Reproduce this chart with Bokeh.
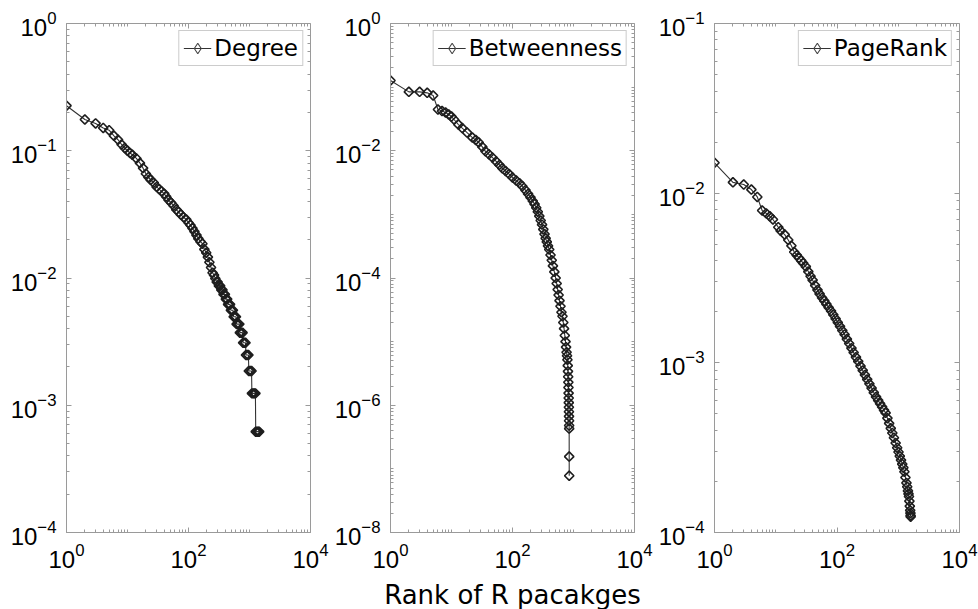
import math
from bokeh.plotting import figure
from bokeh.models import Range1d, FixedTicker, LogAxis, Legend, LegendItem
from bokeh.layouts import row
from bokeh.embed import file_html
from bokeh.resources import INLINE

# ---------------- data ----------------
deg_rank = [1, 2, 3, 4, 5, 6, 7, 8, 9, 10, 11, 12, 14, 16, 18, 20, 22, 24, 27, 30,
            33, 36, 40, 43, 47, 52, 57, 63, 69, 75, 83, 92, 100, 108, 116, 125, 135,
            145, 157, 169, 182, 195, 208, 220, 234, 248, 262, 275, 290, 300, 315,
            330, 345, 360, 375, 395, 410, 430, 445, 465, 480, 495, 515, 535, 550,
            575, 600, 615, 645, 680, 695, 730, 770, 785, 820, 860, 875, 915, 960,
            975, 1030, 1080, 1095, 1150, 1200, 1250, 1265, 1330, 1390, 1440]
deg_value = [0.226, 0.176, 0.164, 0.151, 0.145, 0.131, 0.122, 0.112, 0.105, 0.100,
             0.096, 0.093, 0.087, 0.080, 0.073, 0.066, 0.062, 0.059, 0.056, 0.052,
             0.050, 0.048, 0.046, 0.0436, 0.041, 0.039, 0.037, 0.0345, 0.033, 0.0315,
             0.030, 0.0288, 0.0272, 0.0260, 0.0246, 0.0232, 0.0217, 0.0204, 0.0193,
             0.0186, 0.0168, 0.0158, 0.0146, 0.0133, 0.0121, 0.0110, 0.01054,
             0.00992, 0.0093, 0.0093, 0.00868, 0.00868, 0.00806, 0.00806, 0.00744,
             0.00744, 0.00682, 0.00682, 0.0062, 0.0062, 0.0062, 0.00558, 0.00558,
             0.00558, 0.00496, 0.00496, 0.00496, 0.00434, 0.00434, 0.00434, 0.00372,
             0.00372, 0.00372, 0.0031, 0.0031, 0.0031, 0.00248, 0.00248, 0.00248,
             0.00186, 0.00186, 0.00186, 0.00124, 0.00124, 0.00124, 0.00124, 0.00062,
             0.00062, 0.00062, 0.00062]

bet_rank = [1, 2, 3, 4, 5, 6, 7, 8, 9, 10, 11, 13, 15, 18, 22, 25, 28, 32, 36, 41,
            47, 54, 61, 68, 77, 88, 100, 115, 130, 145, 163, 180, 197, 215, 230,
            245, 260, 275, 290, 305, 320, 335, 350, 365, 382, 400, 420, 440, 460,
            485, 510, 530, 550, 570, 590, 612, 635, 660, 680, 700, 720, 740, 755,
            770, 783, 795, 805, 812, 818, 823, 827, 831, 834, 837, 840, 842, 844,
            846, 848, 849, 850, 851]
bet_value = [0.127, 0.0843, 0.0843, 0.0813, 0.0738, 0.0445, 0.0421, 0.0399, 0.0371,
             0.0345, 0.0310, 0.0258, 0.0227, 0.0193, 0.0161, 0.0148, 0.0135, 0.0115,
             0.0098, 0.0088, 0.0078, 0.0068, 0.0060, 0.0053, 0.0048, 0.0043, 0.0038,
             0.0034, 0.0031, 0.00277, 0.0024, 0.0021, 0.00185, 0.00162, 0.00145,
             0.00127, 0.00110, 0.00094, 0.00080, 0.00069, 0.00058, 0.00049, 0.00042,
             0.00037, 0.00032, 0.00028, 0.00023, 0.00019, 0.000155, 0.000125, 1.0e-4,
             8.2e-5, 6.6e-5, 5.4e-5, 4.4e-5, 3.6e-5, 2.9e-5, 2.5e-5, 2.0e-5, 1.6e-5,
             1.25e-5, 1.0e-5, 8.2e-6, 6.8e-6, 6.0e-6, 5.2e-6, 4.2e-6, 3.4e-6, 2.8e-6,
             2.3e-6, 1.9e-6, 1.55e-6, 1.3e-6, 1.1e-6, 9.3e-7, 7.9e-7, 6.7e-7, 5.7e-7,
             4.8e-7, 4.3e-7, 1.56e-7, 7.8e-8]

pr_rank = [1, 2, 3, 4, 5, 6, 7, 8, 9, 11, 12, 14, 16, 18, 20, 22, 24, 26, 28, 31,
           34, 37, 40, 44, 48, 52, 57, 62, 67, 73, 80, 87, 95, 103, 112, 122, 133,
           145, 158, 172, 187, 204, 222, 242, 263, 286, 311, 338, 367, 399, 434,
           470, 505, 545, 585, 622, 665, 710, 755, 800, 850, 907, 960, 1010, 1060,
           1110, 1160, 1210, 1260, 1310, 1360, 1400, 1440, 1470, 1496, 1520, 1545,
           1565, 1580, 1590, 1595]
pr_value = [0.0151, 0.01158, 0.01124, 0.0105, 0.0095, 0.0079, 0.0076, 0.0073, 0.0070,
            0.0063, 0.0060, 0.0057, 0.0053, 0.0049, 0.00450, 0.00431, 0.00415,
            0.00400, 0.00387, 0.00369, 0.00345, 0.00324, 0.00307, 0.00286, 0.00269,
            0.00255, 0.00242, 0.00232, 0.00222, 0.00212, 0.00202, 0.00192, 0.00182,
            0.00173, 0.00164, 0.00155, 0.00147, 0.00138, 0.00130, 0.00122, 0.00115,
            0.00108, 0.00102, 0.000957, 0.000902, 0.000849, 0.000799, 0.000753,
            0.000710, 0.000668, 0.000630, 0.000601, 0.000575, 0.000550, 0.000526,
            0.000507, 0.000472, 0.000440, 0.000411, 0.000386, 0.000362, 0.000337,
            0.000316, 0.000298, 0.000282, 0.000267, 0.000253, 0.000241, 0.000228,
            0.000211, 0.000196, 0.000186, 0.000176, 0.000169, 0.000163, 0.000153,
            0.000143, 0.000135, 0.000130, 0.000126, 0.000124]

series_labels = ["Degree", "Betweenness", "PageRank"]
x_label = "Rank of R pacakges"

# ---------------- styling ----------------
FONT = "DejaVu Sans"
TICK_FONT = "Liberation Sans"
AXIS_GREY = "#9a9a9a"
MARK = "#1e1e1e"
FRAME_H = 509
TOP = 23
BOTTOM = 66


def decade_minors(lo_exp, hi_exp, extra_decades):
    out = []
    for e in range(lo_exp, hi_exp):
        for k in range(2, 10):
            out.append(k * 10.0 ** e)
    out += [10.0 ** e for e in extra_decades]
    return out


def style_axis(ax, show_labels, standoff):
    ax.axis_line_color = AXIS_GREY
    ax.major_tick_line_color = AXIS_GREY
    ax.minor_tick_line_color = AXIS_GREY
    ax.major_tick_in = 5
    ax.major_tick_out = 0
    ax.minor_tick_in = 3
    ax.minor_tick_out = 0
    if show_labels:
        ax.major_label_text_font = TICK_FONT
        ax.major_label_text_font_size = "24px"
        ax.major_label_text_color = "black"
        ax.major_label_standoff = standoff
    else:
        ax.major_label_text_font_size = "1px"
        ax.major_label_text_alpha = 0.0
        ax.major_label_standoff = 0


def make_panel(ranks, vals, label, y_lo, y_hi, y_step, frame_w, left, right, xlabel=None):
    p = figure(frame_width=frame_w, frame_height=FRAME_H, title=None,
               x_axis_type="log", y_axis_type="log",
               x_range=Range1d(1, 1e4), y_range=Range1d(10.0 ** y_lo, 10.0 ** y_hi),
               output_backend="svg", toolbar_location=None,
               min_border_left=left, min_border_right=right,
               min_border_top=TOP, min_border_bottom=BOTTOM)
    p.grid.visible = False
    p.outline_line_color = AXIS_GREY
    p.background_fill_color = "white"
    p.border_fill_color = "white"

    x_major = [1.0, 100.0, 10000.0]
    x_minor = decade_minors(0, 4, [1, 3])
    y_major = [10.0 ** e for e in range(y_lo, y_hi + 1, y_step)]
    extra = [e for e in range(y_lo, y_hi + 1) if (e - y_lo) % y_step != 0]
    y_minor = decade_minors(y_lo, y_hi, extra)

    bottom_ax = p.below[0]
    left_ax = p.left[0]
    bottom_ax.ticker = FixedTicker(ticks=x_major, minor_ticks=x_minor)
    left_ax.ticker = FixedTicker(ticks=y_major, minor_ticks=y_minor)
    style_axis(bottom_ax, True, 10)
    style_axis(left_ax, True, 10)

    # box ticks on the top and right sides (drawn at the frame edges)
    top_ax = LogAxis(ticker=FixedTicker(ticks=x_major, minor_ticks=x_minor),
                     fixed_location=10.0 ** y_hi)
    right_ax = LogAxis(ticker=FixedTicker(ticks=y_major, minor_ticks=y_minor),
                       fixed_location=1e4)
    style_axis(top_ax, False, 0)
    style_axis(right_ax, False, 0)
    p.add_layout(top_ax, "above")
    p.add_layout(right_ax, "right")

    if xlabel:
        bottom_ax.axis_label = xlabel
        bottom_ax.axis_label_text_font = FONT
        bottom_ax.axis_label_text_font_size = "26px"
        bottom_ax.axis_label_text_font_style = "normal"
        bottom_ax.axis_label_text_color = "black"
        bottom_ax.axis_label_standoff = 9

    ln = p.line(ranks, vals, line_color="#333333", line_width=1.1)
    p.scatter(ranks, vals, marker="square", angle=math.pi / 4, size=6.6,
              fill_color=None, line_color=MARK, line_width=1.6)
    # hidden copy only used to draw the legend's diamond symbol
    proxy = p.scatter(ranks, vals, marker="diamond", size=12, visible=False,
                      fill_color=None, line_color="#444444", line_width=1.1)

    legend = Legend(items=[LegendItem(label=label, renderers=[ln, proxy])],
                    location="top_right")
    legend.label_text_font = FONT
    legend.label_text_font_size = "23px"
    legend.label_text_color = "black"
    legend.border_line_color = AXIS_GREY
    legend.border_line_width = 1
    legend.background_fill_alpha = 1.0
    legend.margin = 7
    legend.padding = 4
    legend.glyph_width = 28
    legend.glyph_height = 26
    legend.label_standoff = 3
    legend.label_height = 26
    p.add_layout(legend)
    return p


p1 = make_panel(deg_rank, deg_value, series_labels[0], -4, 0, 1, 244, 66, 21)
p2 = make_panel(bet_rank, bet_value, series_labels[1], -8, 0, 2, 244, 56, 21, x_label)
p3 = make_panel(pr_rank, pr_value, series_labels[2], -4, -1, 1, 245, 56, 19)

layout = row(p1, p2, p3)
open("out.html", "w").write(file_html(layout, INLINE))
